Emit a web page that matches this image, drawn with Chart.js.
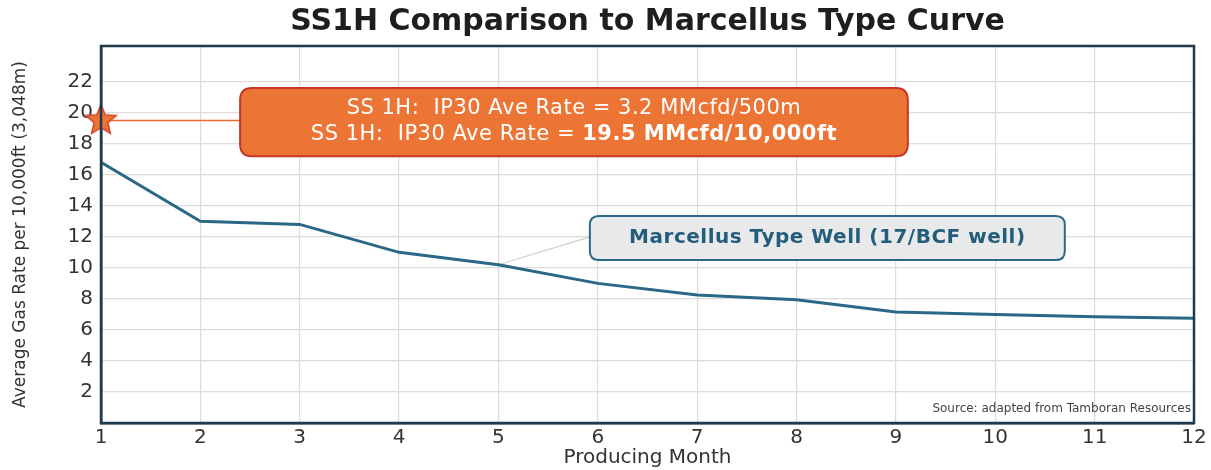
<!DOCTYPE html>
<html>
<head>
<meta charset="utf-8">
<script src="https://cdn.jsdelivr.net/npm/chart.js@4/dist/chart.umd.min.js"></script>
<style>
  html, body { margin: 0; padding: 0; background: #fff; }
  #wrap { width: 1211px; height: 470px; }
</style>
</head>
<body>
<div id="wrap"><canvas id="chart" width="1211" height="470"></canvas></div>
<script>
// data
const months = [1, 2, 3, 4, 5, 6, 7, 8, 9, 10, 11, 12];
const marcellusRate = [16.8, 13.0, 12.8, 11.0, 10.2, 9.0, 8.25, 7.95, 7.15, 7.0, 6.85, 6.75];
const ss1hMonth = 1;
const ss1hRate = 19.5;
const yTicks = [2, 4, 6, 8, 10, 12, 14, 16, 18, 20, 22];

const navy = '#1f3a4d';
const lineBlue = '#2b6787';
const FONT = '"DejaVu Sans", sans-serif';

// callout boxes, positioned in data units
const orangeBox = { x0: 2.4, x1: 9.12, y0: 21.6, y1: 17.2 };
const blueBox = { x0: 5.92, x1: 10.7, y0: 13.35, y1: 10.5 };

// filled five point star used as the SS1H marker
function makeStar(r) {
  const c = document.createElement('canvas');
  c.width = c.height = r * 2 + 4;
  const g = c.getContext('2d');
  const cx = r + 2, cy = r + 2;
  g.beginPath();
  for (let i = 0; i < 10; i++) {
    const rr = i % 2 === 0 ? r : r * 0.45;
    const a = -Math.PI / 2 + i * Math.PI / 5;
    g.lineTo(cx + rr * Math.cos(a), cy + rr * Math.sin(a));
  }
  g.closePath();
  g.fillStyle = '#ec7434';
  g.fill();
  g.strokeStyle = '#d2452a';
  g.lineWidth = 1.5;
  g.stroke();
  return c;
}

function roundRect(ctx, x, y, w, h, r) {
  ctx.beginPath();
  ctx.moveTo(x + r, y);
  ctx.lineTo(x + w - r, y);
  ctx.quadraticCurveTo(x + w, y, x + w, y + r);
  ctx.lineTo(x + w, y + h - r);
  ctx.quadraticCurveTo(x + w, y + h, x + w - r, y + h);
  ctx.lineTo(x + r, y + h);
  ctx.quadraticCurveTo(x, y + h, x, y + h - r);
  ctx.lineTo(x, y + r);
  ctx.quadraticCurveTo(x, y, x + r, y);
  ctx.closePath();
}

const extras = {
  id: 'extras',
  beforeDatasetsDraw(chart) {
    const { ctx, scales: { x, y } } = chart;
    // grey leader from the curve to the blue callout
    ctx.save();
    ctx.strokeStyle = '#cfcfcf';
    ctx.lineWidth = 1.2;
    ctx.beginPath();
    ctx.moveTo(x.getPixelForValue(5), y.getPixelForValue(marcellusRate[4]));
    ctx.lineTo(x.getPixelForValue(blueBox.x0), y.getPixelForValue(12.0));
    ctx.stroke();
    ctx.restore();
  },
  afterDatasetsDraw(chart) {
    const { ctx, chartArea: a, scales: { x, y } } = chart;
    ctx.save();

    // title, centred over the plot
    ctx.fillStyle = '#1e1e1e';
    ctx.font = 'bold 30px ' + FONT;
    ctx.textAlign = 'center';
    ctx.textBaseline = 'middle';
    ctx.fillText('SS1H Comparison to Marcellus Type Curve', (a.left + a.right) / 2, 22);

    // orange callout
    let bx = x.getPixelForValue(orangeBox.x0), bw = x.getPixelForValue(orangeBox.x1) - bx;
    let by = y.getPixelForValue(orangeBox.y0), bh = y.getPixelForValue(orangeBox.y1) - by;
    roundRect(ctx, bx, by, bw, bh, 12);
    ctx.fillStyle = '#ec7434';
    ctx.fill();
    ctx.strokeStyle = '#c8352a';
    ctx.lineWidth = 2;
    ctx.stroke();

    ctx.fillStyle = '#ffffff';
    ctx.letterSpacing = '0.5px';
    const cx = bx + bw / 2;
    const normal = '21px ' + FONT;
    const bold = 'bold 21px ' + FONT;
    ctx.font = normal;
    ctx.fillText('SS 1H:  IP30 Ave Rate = 3.2 MMcfd/500m', cx, by + bh * 0.3);
    const partA = 'SS 1H:  IP30 Ave Rate = ';
    const partB = '19.5 MMcfd/10,000ft';
    const wA = ctx.measureText(partA).width;
    ctx.font = bold;
    const wB = ctx.measureText(partB).width;
    const start = cx - (wA + wB) / 2;
    ctx.textAlign = 'left';
    ctx.font = normal;
    ctx.fillText(partA, start, by + bh * 0.68);
    ctx.font = bold;
    ctx.fillText(partB, start + wA, by + bh * 0.68);

    // blue callout
    bx = x.getPixelForValue(blueBox.x0); bw = x.getPixelForValue(blueBox.x1) - bx;
    by = y.getPixelForValue(blueBox.y0); bh = y.getPixelForValue(blueBox.y1) - by;
    roundRect(ctx, bx, by, bw, bh, 9);
    ctx.fillStyle = '#e8e9ea';
    ctx.fill();
    ctx.strokeStyle = lineBlue;
    ctx.lineWidth = 2;
    ctx.stroke();
    ctx.fillStyle = '#245d7c';
    ctx.font = 'bold 20px ' + FONT;
    ctx.textAlign = 'center';
    ctx.fillText('Marcellus Type Well (17/BCF well)', bx + bw / 2, by + bh / 2);
    ctx.letterSpacing = '0px';

    // source note
    ctx.fillStyle = '#444';
    ctx.font = '12px ' + FONT;
    ctx.textAlign = 'right';
    ctx.fillText('Source: adapted from Tamboran Resources', a.right - 3, a.bottom - 14);

    // frame round the plot
    ctx.strokeStyle = navy;
    ctx.lineWidth = 2.5;
    ctx.strokeRect(a.left, a.top, a.right - a.left, a.bottom - a.top);
    ctx.restore();
  }
};

const star = makeStar(16);

new Chart(document.getElementById('chart'), {
  type: 'line',
  data: {
    datasets: [
      {
        label: 'SS1H leader',
        data: [{ x: ss1hMonth, y: ss1hRate }, { x: orangeBox.x0, y: ss1hRate }],
        borderColor: '#ef6a2c',
        borderWidth: 1.5,
        pointRadius: 0,
        order: 3
      },
      {
        label: 'Marcellus Type Well',
        data: months.map((m, i) => ({ x: m, y: marcellusRate[i] })),
        borderColor: lineBlue,
        borderWidth: 3,
        pointRadius: 0,
        tension: 0,
        order: 2
      },
      {
        label: 'SS1H',
        data: [{ x: ss1hMonth, y: ss1hRate }],
        showLine: false,
        pointStyle: star,
        pointRadius: 16,
        clip: false,
        order: 1
      }
    ]
  },
  options: {
    responsive: false,
    animation: false,
    layout: { padding: { left: 0, right: 8, top: 46, bottom: 0 } },
    plugins: {
      legend: { display: false },
      tooltip: { enabled: false },
      title: { display: false }
    },
    scales: {
      x: {
        type: 'linear',
        min: 1,
        max: 12,
        afterBuildTicks: s => { s.ticks = months.map(v => ({ value: v })); },
        afterFit: s => {
          s.height = 47;
          s.paddingRight = 0;
          s.paddingLeft = 0;
          s.getPadding = () => ({ left: 0, top: 0, right: 8, bottom: 0 });
        },
        grid: { color: '#dcdcdc', lineWidth: 1.2, drawTicks: false },
        border: { color: navy, width: 2.5 },
        ticks: { color: '#333', font: { family: FONT, size: 20 }, padding: 3, maxRotation: 0 },
        title: { display: true, text: 'Producing Month', color: '#333', font: { family: FONT, size: 20 }, padding: 0 }
      },
      y: {
        min: 0,
        max: 24.3,
        afterBuildTicks: s => { s.ticks = yTicks.map(v => ({ value: v })); },
        afterFit: s => { s.width = 101; s.paddingTop = 0; s.paddingBottom = 0; },
        grid: { color: '#dcdcdc', lineWidth: 1.2, drawTicks: false },
        border: { color: navy, width: 2.5 },
        ticks: { color: '#333', font: { family: FONT, size: 20 }, padding: 8 },
        title: { display: true, text: 'Average Gas Rate per 10,000ft (3,048m)', color: '#333', font: { family: FONT, size: 17 }, padding: { top: 10, bottom: 0 } }
      }
    }
  },
  plugins: [extras]
});
</script>
</body>
</html>
